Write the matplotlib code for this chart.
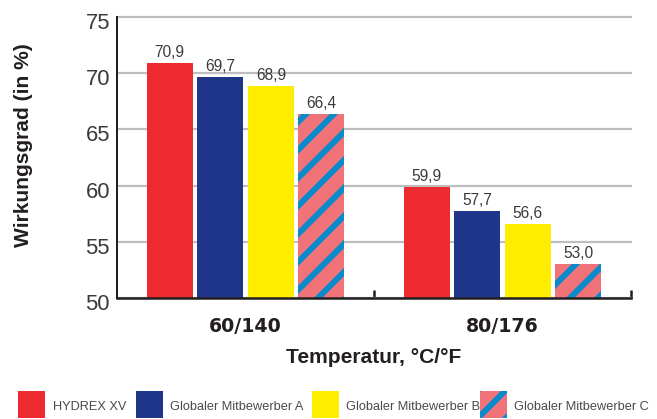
import numpy as np
import matplotlib
matplotlib.use("Agg")
import matplotlib.pyplot as plt
from matplotlib.patches import Rectangle
from matplotlib.transforms import ScaledTranslation

# Wirkungsgrad bei zwei Vor-/Rücklauftemperaturen
categories = ["60/140", "80/176"]
series_names = ["HYDREX XV", "Globaler Mitbewerber A",
                "Globaler Mitbewerber B", "Globaler Mitbewerber C"]
hydrex_xv = [70.9, 59.9]
mitbewerber_a = [69.7, 57.7]
mitbewerber_b = [68.9, 56.6]
mitbewerber_c = [66.4, 53.0]
y_ticks = [50, 55, 60, 65, 70, 75]

DPI = 84
W, H = 657, 419


def pt(px):
    """pixel size -> points at the figure dpi"""
    return px * 72.0 / DPI


RED = "#EC2A2F"
BLUE = "#1F3589"
YELLOW = "#FFED00"
PINK = "#F0737A"
STRIPE = "#0A8AC9"
INK = "#231F20"
GREY_TXT = "#3A3A3A"

plt.rcParams["hatch.linewidth"] = pt(6)
plt.rcParams["hatch.color"] = STRIPE

fig = plt.figure(figsize=(W / DPI, H / DPI), dpi=DPI)
ax_left, ax_right, ax_top, ax_bottom = 117, 631, 17, 298
ax = fig.add_axes([ax_left / W, (H - ax_bottom) / H,
                   (ax_right - ax_left) / W, (ax_bottom - ax_top) / H])

values = [hydrex_xv, mitbewerber_a, mitbewerber_b, mitbewerber_c]
styles = [dict(color=RED), dict(color=BLUE), dict(color=YELLOW),
          dict(color=PINK, hatch="/", edgecolor=STRIPE)]

centers = np.arange(len(categories)) + 0.5
step, width = 0.197, 0.179
offsets = (np.arange(len(values)) - (len(values) - 1) / 2) * step

for vals, off, st in zip(values, offsets, styles):
    bars = ax.bar(centers + off, vals, width=width, linewidth=0, zorder=2, **st)
    for rect, v in zip(bars, vals):
        ax.annotate(f"{v:.1f}".replace(".", ","),
                    xy=(rect.get_x() + rect.get_width() / 2, v),
                    xytext=(0, 6), textcoords="offset pixels",
                    ha="center", va="baseline", fontsize=pt(15.5),
                    family=["Liberation Sans", "DejaVu Sans"], color=GREY_TXT)

ax.set_xlim(0, len(categories))
ax.set_ylim(y_ticks[0], y_ticks[-1])

# grid + spines
ax.set_yticks(y_ticks)
ax.yaxis.grid(True, color="#BCBEC0", linewidth=pt(2.2))
for gl in ax.get_ygridlines():
    gl.set_clip_on(False)
ax.set_axisbelow(True)
for side in ("top", "right"):
    ax.spines[side].set_visible(False)
ax.spines["left"].set_linewidth(pt(2))
ax.spines["bottom"].set_linewidth(pt(2.5))
ax.spines["left"].set_color(INK)
ax.spines["bottom"].set_color(INK)

# y tick labels
ax.tick_params(axis="y", length=0, pad=pt(7), labelsize=pt(22), labelcolor=GREY_TXT)
for lab in ax.get_yticklabels():
    lab.set_family(["Liberation Sans", "DejaVu Sans"])
    lab.set_transform(lab.get_transform() + ScaledTranslation(0, -4 / DPI, fig.dpi_scale_trans))

# x: category labels at group centres, small inward ticks at group boundaries
ax.set_xticks(centers, labels=categories)
ax.set_xticks(np.arange(1, len(categories) + 1), minor=True)
ax.tick_params(axis="x", which="major", length=0, pad=pt(19), labelsize=pt(19),
               labelcolor=INK)
ax.tick_params(axis="x", which="minor", direction="in", length=pt(8), width=pt(2.5),
               color=INK)
for lab in ax.get_xticklabels():
    lab.set_fontweight("bold")
    lab.set_family("DejaVu Sans")

# axis titles
fig.text(24 / W, 1 - 145 / H, "Wirkungsgrad (in %)", rotation=90,
         ha="center", va="center", fontsize=pt(21), fontweight="bold",
         family=["Liberation Sans", "DejaVu Sans"], color=INK)
fig.text((ax_left + ax_right) / 2 / W, (H - 363) / H, "Temperatur, °C/°F",
         ha="center", va="baseline", fontsize=pt(21), fontweight="bold",
         family=["Liberation Sans", "DejaVu Sans"], color=INK)

# legend row
patch_x = [18, 136, 312, 480]
text_x = [53, 170, 346, 514]
box = 27
for name, st, px0, tx in zip(series_names, styles, patch_x, text_x):
    rect = Rectangle((px0 / W, (H - 418) / H), box / W, box / H,
                     transform=fig.transFigure, linewidth=0,
                     facecolor=st["color"], hatch=st.get("hatch"),
                     edgecolor=st.get("edgecolor", st["color"]))
    fig.add_artist(rect)
    fig.text(tx / W, (H - 410) / H, name, ha="left", va="baseline",
             fontsize=pt(12.7), family=["Liberation Sans", "DejaVu Sans"],
             color="#4A4A4A")

fig.savefig("out.png", dpi=DPI)
